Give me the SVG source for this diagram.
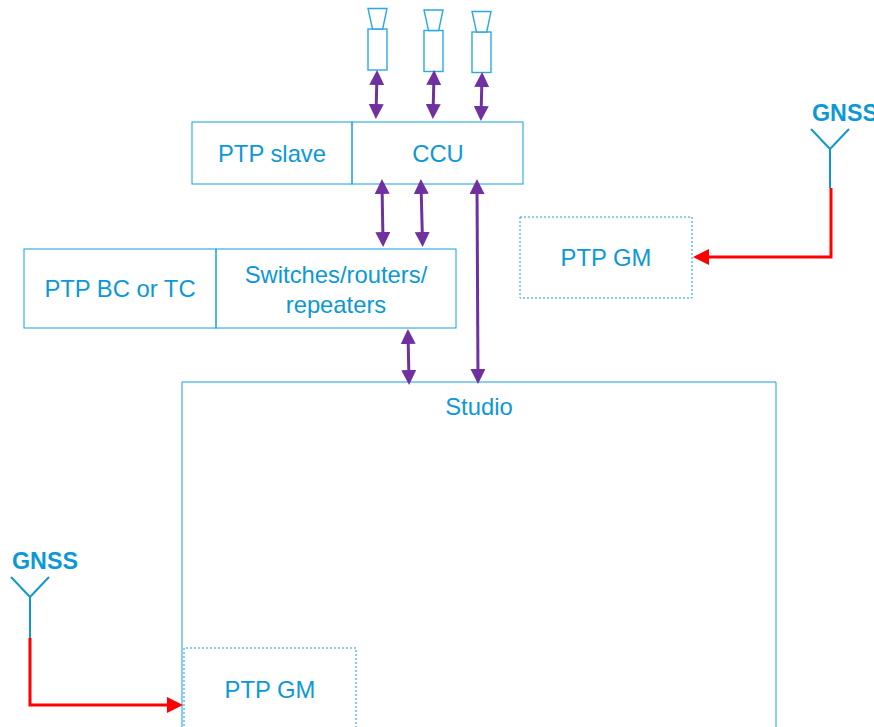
<svg xmlns="http://www.w3.org/2000/svg" width="874" height="727" viewBox="0 0 874 727">
<style>
.box{fill:none;stroke:#12a0e0;stroke-width:1}
.dot{fill:none;stroke:#12a0e0;stroke-width:1;stroke-dasharray:2 2}
.cam{fill:#fff;stroke:#2aa8e2;stroke-width:1.4}
.ant{fill:none;stroke:#0f98d4;stroke-width:2}
.t{font-family:"Liberation Sans",Arial,sans-serif;font-size:23.800px;fill:#0c98d8;text-anchor:middle}
.g{font-family:"Liberation Sans",Arial,sans-serif;font-size:23.300px;font-weight:bold;fill:#0c98d8}
.p{fill:none;stroke:#7030a0;stroke-width:3}
.r{fill:none;stroke:#ff0000;stroke-width:3}
</style>
<defs>
<marker id="ap" markerUnits="userSpaceOnUse" markerWidth="15" markerHeight="15" viewBox="0 0 15 15" refX="10" refY="7.5" orient="auto-start-reverse"><path d="M0,0L15,7.5L0,15Z" fill="#7030a0"/></marker>
<marker id="ar" markerUnits="userSpaceOnUse" markerWidth="16" markerHeight="16" viewBox="0 0 16 16" refX="11" refY="8" orient="auto"><path d="M0,0L16,8L0,16Z" fill="#ff0000"/></marker>
</defs>
<g id="node-studio"><path class="box" d="M182,730V382H776V730"/><text class="t" x="479" y="415">Studio</text></g>
<g id="node-gm-bottom"><path class="dot" d="M184,730V648H356V730"/><text class="t" x="270" y="698">PTP GM</text></g>
<g id="node-gm-right"><rect class="dot" x="520" y="217" width="172" height="81"/><text class="t" x="606" y="266">PTP GM</text></g>
<g id="node-ptp-slave"><rect class="box" x="192" y="122" width="160" height="62"/><text class="t" x="272" y="162">PTP slave</text></g>
<g id="node-ccu"><rect class="box" x="352" y="122" width="171" height="62"/><text class="t" x="438" y="162">CCU</text></g>
<g id="node-bc"><rect class="box" x="24" y="249" width="192" height="79"/><text class="t" x="120" y="297">PTP BC or TC</text></g>
<g id="node-switches"><rect class="box" x="216" y="249" width="240" height="79"/><text class="t" x="336" y="283">Switches/routers/</text><text class="t" x="336" y="313">repeaters</text></g>
<g id="node-cam1"><rect class="cam" x="368" y="29" width="19" height="41"/><path class="cam" d="M368,8.500H387L382.700,29H372.500Z"/></g>
<g id="node-cam2"><rect class="cam" x="424" y="30.500" width="19" height="41"/><path class="cam" d="M424,10H443L438.700,30.500H428.500Z"/></g>
<g id="node-cam3"><rect class="cam" x="472" y="32" width="19" height="40.500"/><path class="cam" d="M472,11.500H491L486.700,32H476.500Z"/></g>
<g id="node-gnss-right"><path class="ant" d="M811,129L830,149L849,129M830,149V188"/><text class="g" x="812" y="121">GNSS</text></g>
<g id="node-gnss-left"><path class="ant" d="M11,577L30,597L49,577M30,597V638"/><text class="g" x="12" y="569">GNSS</text></g>
<g id="connectors">
<line class="p" x1="377" y1="75" x2="376" y2="114" marker-start="url(#ap)" marker-end="url(#ap)"/>
<line class="p" x1="434" y1="75" x2="433" y2="114" marker-start="url(#ap)" marker-end="url(#ap)"/>
<line class="p" x1="482" y1="77" x2="481" y2="116" marker-start="url(#ap)" marker-end="url(#ap)"/>
<line class="p" x1="382" y1="184" x2="383" y2="242" marker-start="url(#ap)" marker-end="url(#ap)"/>
<line class="p" x1="421" y1="184" x2="422.500" y2="242" marker-start="url(#ap)" marker-end="url(#ap)"/>
<line class="p" x1="477" y1="184" x2="478" y2="379" marker-start="url(#ap)" marker-end="url(#ap)"/>
<line class="p" x1="408" y1="334" x2="409" y2="380" marker-start="url(#ap)" marker-end="url(#ap)"/>
<path class="r" d="M831,188V257H698" marker-end="url(#ar)"/>
<path class="r" d="M30,638V705H178" marker-end="url(#ar)"/>
</g>
</svg>
